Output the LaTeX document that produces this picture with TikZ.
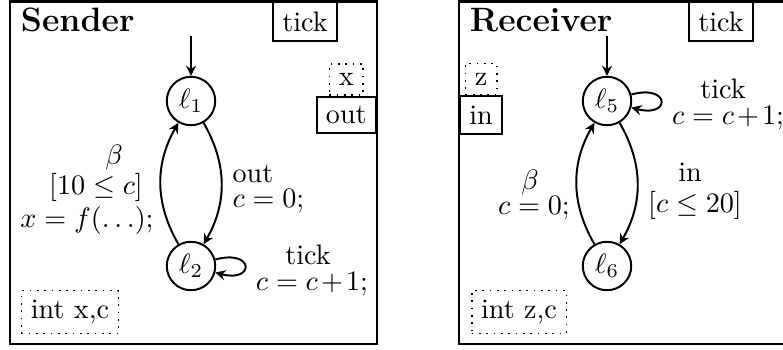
\documentclass[tikz,border=0pt]{standalone}
\usepackage{tikz}
\usetikzlibrary{arrows.meta,positioning}

\begin{document}
\begin{tikzpicture}[
  x=0.355pt,y=-0.355pt,
  proc/.style={draw,line width=0.8pt},
  title/.style={font=\large\bfseries,anchor=west},
  loc/.style={circle,draw,line width=0.7pt,minimum size=17.2pt,inner sep=0pt},
  chan/.style={draw,line width=0.7pt},
  decl/.style={draw,dotted,line width=0.6pt},
  lbl/.style={inner sep=0pt},
  arr/.style={-{Stealth[length=3.6pt,width=3.6pt]},line width=0.7pt}
]
  \useasboundingbox (0,0) rectangle (783,349);
  \clip (0,0) rectangle (783,349);

  % Sender
  \draw[proc] (10,1.5) rectangle (377,344);
  \node[title] (sndname) at (11,20) {Sender};
  \node[chan,anchor=north] (sndtick) at (305,1.5) {tick};
  \node[chan,anchor=east] (sndout) at (377,115) {out};
  \node[decl,above=0pt of sndout] (sndx) {x};
  \node[decl] (snddecl) at (70,312) {int x,c};

  \node[loc] (l1) at (191,101) {$\ell_1$};
  \node[loc] (l2) at (191,266) {$\ell_2$};
  \coordinate (i1) at (191,36);

  \draw[arr] (i1) -- (l1);
  \draw[arr] (l1) to[bend left=30] (l2);
  \draw[arr] (l2) to[bend left=30] (l1);
  \draw[arr] (l2) to[loop right] ();

  \node[lbl,anchor=west] (sndsync) at (232,174) {out};
  \node[lbl,anchor=west] (sndreset) at (232,201) {$c = 0;$};
  \node[lbl] (sndbeta) at (114,157) {$\beta$};
  \node[lbl] (sndguard) at (96,187) {$[10 \leq c]$};
  \node[lbl] (sndupd) at (87,220) {$x = f(\ldots);$};
  \node[lbl] (sndtk) at (308,255) {tick};
  \node[lbl] (sndinc) at (312,284) {$c = c\mkern2mu{+}\mkern2mu1;$};

  % Receiver
  \draw[proc] (459,1.5) rectangle (826,344);
  \node[title] (rcvname) at (460,20) {Receiver};
  \node[chan,anchor=north] (rcvtick) at (721,1.5) {tick};
  \node[chan,anchor=west] (rcvin) at (459,115) {in};
  \node[decl,above=0pt of rcvin] (rcvz) {z};
  \node[decl] (rcvdecl) at (519,312) {int z,c};

  \node[loc] (l5) at (607,101) {$\ell_5$};
  \node[loc] (l6) at (607,266) {$\ell_6$};
  \coordinate (i5) at (607,36);

  \draw[arr] (i5) -- (l5);
  \draw[arr] (l5) to[bend left=30] (l6);
  \draw[arr] (l6) to[bend left=30] (l5);
  \draw[arr] (l5) to[loop right] ();

  \node[lbl] (rcvsync) at (690,172) {in};
  \node[lbl] (rcvguard) at (695,205) {$[c \leq 20]$};
  \node[lbl] (rcvbeta) at (530,182) {$\beta$};
  \node[lbl] (rcvreset) at (534,208) {$c = 0;$};
  \node[lbl] (rcvtk) at (723,89) {tick};
  \node[lbl] (rcvinc) at (728,118) {$c = c\mkern2mu{+}\mkern2mu1;$};
\end{tikzpicture}
\end{document}
